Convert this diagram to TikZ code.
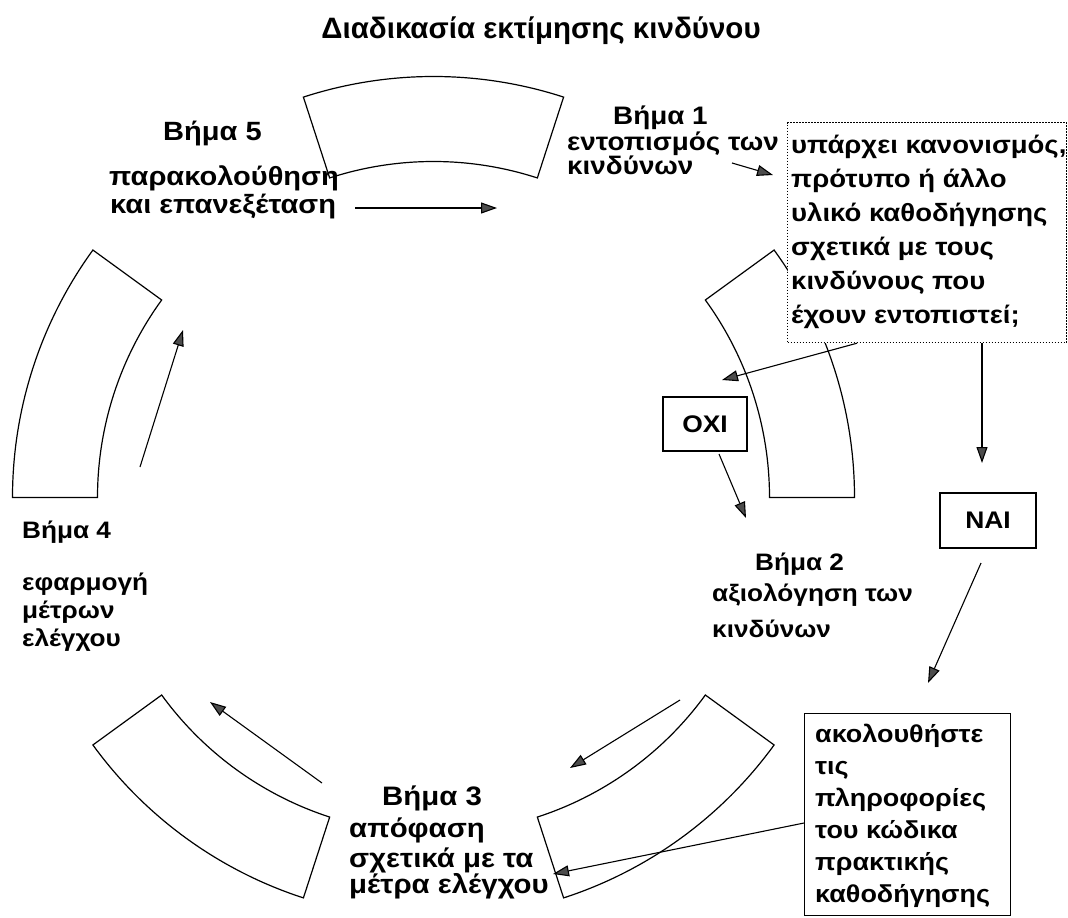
\documentclass[tikz,border=0pt]{standalone}
\usepackage{fontspec}
\setmainfont{Liberation Sans}[FakeStretch=1.1]
\newfontfamily\titlefont{Liberation Sans}
\usetikzlibrary{arrows.meta,calc}
\begin{document}
\begin{tikzpicture}[x=1pt,y=-1pt,
  seg/.style={draw=black,line width=1.2pt,fill=white},
  arr/.style={draw=black,line width=1.1pt,-{Triangle[length=16pt,width=11pt,fill=black!70]}},
  lbl/.style={anchor=base west,inner sep=0pt,font=\fontsize{#1}{28}\selectfont\bfseries},
  btxt/.style={anchor=base west,inner sep=0pt,font=\fontsize{25}{30}\selectfont\bfseries},
  gtxt/.style={anchor=base west,inner sep=0pt,font=\fontsize{24.5}{30}\selectfont\bfseries},
  ttl/.style={anchor=base,inner sep=0pt,font=\titlefont\fontsize{29.5}{32}\selectfont\bfseries},
  ansbox/.style={draw=black,line width=1.2pt,fill=white,inner sep=0pt,font=\fontsize{24}{28}\selectfont\bfseries}
]
\useasboundingbox (0,0) rectangle (1068,918);
\fill[white] (0,0) rectangle (1068,918);
\coordinate (C) at (433.5,497.5);

% title
\node[ttl] (title) at (541,38) {Διαδικασία εκτίμησης κινδύνου};

% ring segments
\draw[seg] ($(C)+(-72:421)$) arc[start angle=-72,end angle=-108,radius=421] -- ($(C)+(-108:336)$) arc[start angle=-108,end angle=-72,radius=336] -- cycle;
\draw[seg] ($(C)+(-144:421)$) arc[start angle=-144,end angle=-180,radius=421] -- ($(C)+(-180:336)$) arc[start angle=-180,end angle=-144,radius=336] -- cycle;
\draw[seg] ($(C)+(108:421)$) arc[start angle=108,end angle=144,radius=421] -- ($(C)+(144:336)$) arc[start angle=144,end angle=108,radius=336] -- cycle;
\draw[seg] ($(C)+(36:421)$) arc[start angle=36,end angle=72,radius=421] -- ($(C)+(72:336)$) arc[start angle=72,end angle=36,radius=336] -- cycle;
\draw[seg] ($(C)+(0:421)$) arc[start angle=0,end angle=-36,radius=421] -- ($(C)+(-36:336)$) arc[start angle=-36,end angle=0,radius=336] -- cycle;

% step labels
\node[lbl=26.4] (s5a) at (163,140) {Βήμα 5};
\node[lbl=26.4] (s5b) at (109,185) {παρακολούθηση};
\node[lbl=26.4] (s5c) at (110,213) {και επανεξέταση};

\node[lbl=25.3] (s1a) at (613,124) {Βήμα 1};
\node[lbl=25.3] (s1b) at (567,150) {εντοπισμός των};
\node[lbl=25.3] (s1c) at (567,174) {κινδύνων};

\node[lbl=23.8] (s2a) at (755,570) {Βήμα 2};
\node[lbl=23.8] (s2b) at (712,601) {αξιολόγηση των};
\node[lbl=23.8] (s2c) at (712,637) {κινδύνων};

\node[lbl=26.7] (s3a) at (382,805) {Βήμα 3};
\node[lbl=26.7] (s3b) at (349,837) {απόφαση};
\node[lbl=26.7] (s3c) at (349,867) {σχετικά με τα};
\node[lbl=26.7] (s3d) at (349,893) {μέτρα ελέγχου};

\node[lbl=23.8] (s4a) at (22,538) {Βήμα 4};
\node[lbl=23.8] (s4b) at (22,590) {εφαρμογή};
\node[lbl=23.8] (s4c) at (22,618) {μέτρων};
\node[lbl=23.8] (s4d) at (22,646) {ελέγχου};

% question box
\node[draw=black,line width=1.2pt,dash pattern=on 1.5pt off 1.5pt,fill=white,anchor=north west,minimum width=279pt,minimum height=220pt,inner sep=0pt] (qbox) at (787,122) {};
\node[btxt] (q1) at (791,153) {υπάρχει κανονισμός,};
\node[btxt] (q2) at (791,187) {πρότυπο ή άλλο};
\node[btxt] (q3) at (791,221) {υλικό καθοδήγησης};
\node[btxt] (q4) at (791,255) {σχετικά με τους};
\node[btxt] (q5) at (791,289) {κινδύνους που};
\node[btxt] (q6) at (791,323) {έχουν εντοπιστεί;};

% answer boxes
\node[ansbox,minimum width=84pt,minimum height=54pt] (oxi) at (705,424) {ΟΧΙ};
\node[ansbox,minimum width=96pt,minimum height=55pt] (nai) at (988,520.5) {ΝΑΙ};

% guidance box
\node[draw=black,line width=1.2pt,fill=white,anchor=north west,minimum width=206pt,minimum height=202pt,inner sep=0pt] (gbox) at (804,713) {};
\node[gtxt] (g1) at (815,742) {ακολουθήστε};
\node[gtxt] (g2) at (815,774) {τις};
\node[gtxt] (g3) at (815,806) {πληροφορίες};
\node[gtxt] (g4) at (815,838) {του κώδικα};
\node[gtxt] (g5) at (815,870) {πρακτικής};
\node[gtxt] (g6) at (815,902) {καθοδήγησης};

% connectors
\coordinate (a5s) at (355,208); \coordinate (a5e) at (497,208);
\draw[arr] (a5s) -- (a5e);
\coordinate (a1s) at (732,163); \coordinate (a1e) at (773,175);
\draw[arr] (a1s) -- (a1e);
\coordinate (ox) at (722,380);
\draw[arr] ([xshift=70pt]qbox.south west) -- (ox);
\coordinate (nx) at (982,463);
\draw[arr] ([xshift=195pt]qbox.south west) -- (nx);
\coordinate (o2s) at (719,454); \coordinate (o2e) at (746,518);
\draw[arr] (o2s) -- (o2e);
\coordinate (n2s) at (981,563); \coordinate (n2e) at (928,683);
\draw[arr] (n2s) -- (n2e);
\coordinate (g3e) at (553,874);
\draw[arr] ([yshift=-110pt]gbox.north west) -- (g3e);
\coordinate (a23s) at (680,700); \coordinate (a23e) at (570,768);
\draw[arr] (a23s) -- (a23e);
\coordinate (a34s) at (322,783); \coordinate (a34e) at (210,702);
\draw[arr] (a34s) -- (a34e);
\coordinate (a45s) at (140,467); \coordinate (a45e) at (183,330);
\draw[arr] (a45s) -- (a45e);
\end{tikzpicture}
\end{document}
